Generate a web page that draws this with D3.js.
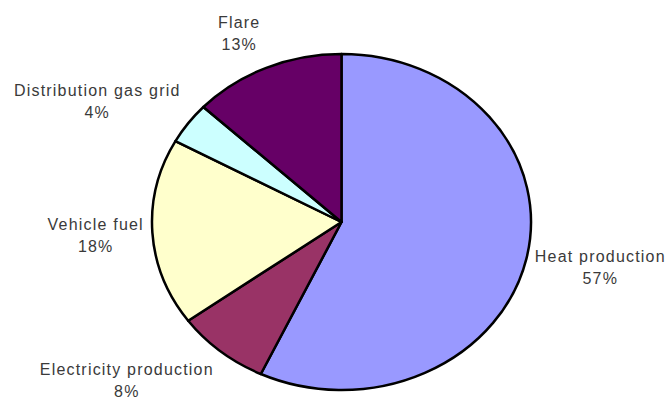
<!DOCTYPE html>
<html>
<head>
    <meta charset="utf-8">
    <title>Biogas use</title>
    <script src="https://cdn.jsdelivr.net/npm/d3@7"></script>
    <style type="text/css">
        body { margin: 0; background: #fff; }
        .label text {
            font-family: "Liberation Sans", Arial, sans-serif;
            font-size: 16px;
            letter-spacing: 1.2px;
            fill: #3a3a3a;
        }
    </style>
</head>
<body>
    <script type="text/javascript">
        // data
        var categories = ["Heat production", "Electricity production", "Vehicle fuel", "Distribution gas grid", "Flare"];
        var shares = [57, 8, 18, 4, 13];
        var colours = ["#9999ff", "#993366", "#ffffcc", "#ccffff", "#660066"];

        var w = 671;
        var h = 401;
        var cx = 341.5, cy = 222;
        var rx = 189.5, ry = 168; // the pie is drawn slightly squashed

        var svg = d3.select("body")
            .append("svg")
            .attr("width", w)
            .attr("height", h);

        var pie = d3.pie().sort(null).value(function(d) { return d; });
        var arcs = pie(shares);

        var arc = d3.arc().innerRadius(0).outerRadius(ry);

        svg.append("g")
            .attr("transform", "translate(" + cx + "," + cy + ") scale(" + (rx / ry) + ",1)")
            .selectAll("path")
            .data(arcs)
            .enter()
            .append("path")
            .attr("d", arc)
            .attr("fill", function(d, i) { return colours[i]; })
            .attr("stroke", "#000")
            .attr("stroke-width", 2.5)
            .attr("stroke-linejoin", "round")
            .attr("vector-effect", "non-scaling-stroke");

        // labels sit just outside the rim, pushed away from the pie
        var labels = svg.selectAll("g.label")
            .data(arcs)
            .enter()
            .append("g")
            .attr("class", "label");

        labels.append("text")
            .attr("text-anchor", "middle")
            .attr("y", -5)
            .text(function(d, i) { return categories[i]; });
        labels.append("text")
            .attr("text-anchor", "middle")
            .attr("y", 17)
            .text(function(d) { return d.data + "%"; });

        labels.attr("transform", function(d) {
            var a = (d.startAngle + d.endAngle) / 2;
            var bw = this.getBBox().width;
            var s = Math.sin(a), c = -Math.cos(a);
            var x = cx + s * rx * 1.045 + (s < 0 ? -1 : 1) * (bw / 2 + 4 * (1 - Math.abs(s)));
            var y = cy + c * ry * 1.045 + c * 30;
            return "translate(" + x + "," + y + ")";
        });
    </script>
</body>
</html>
